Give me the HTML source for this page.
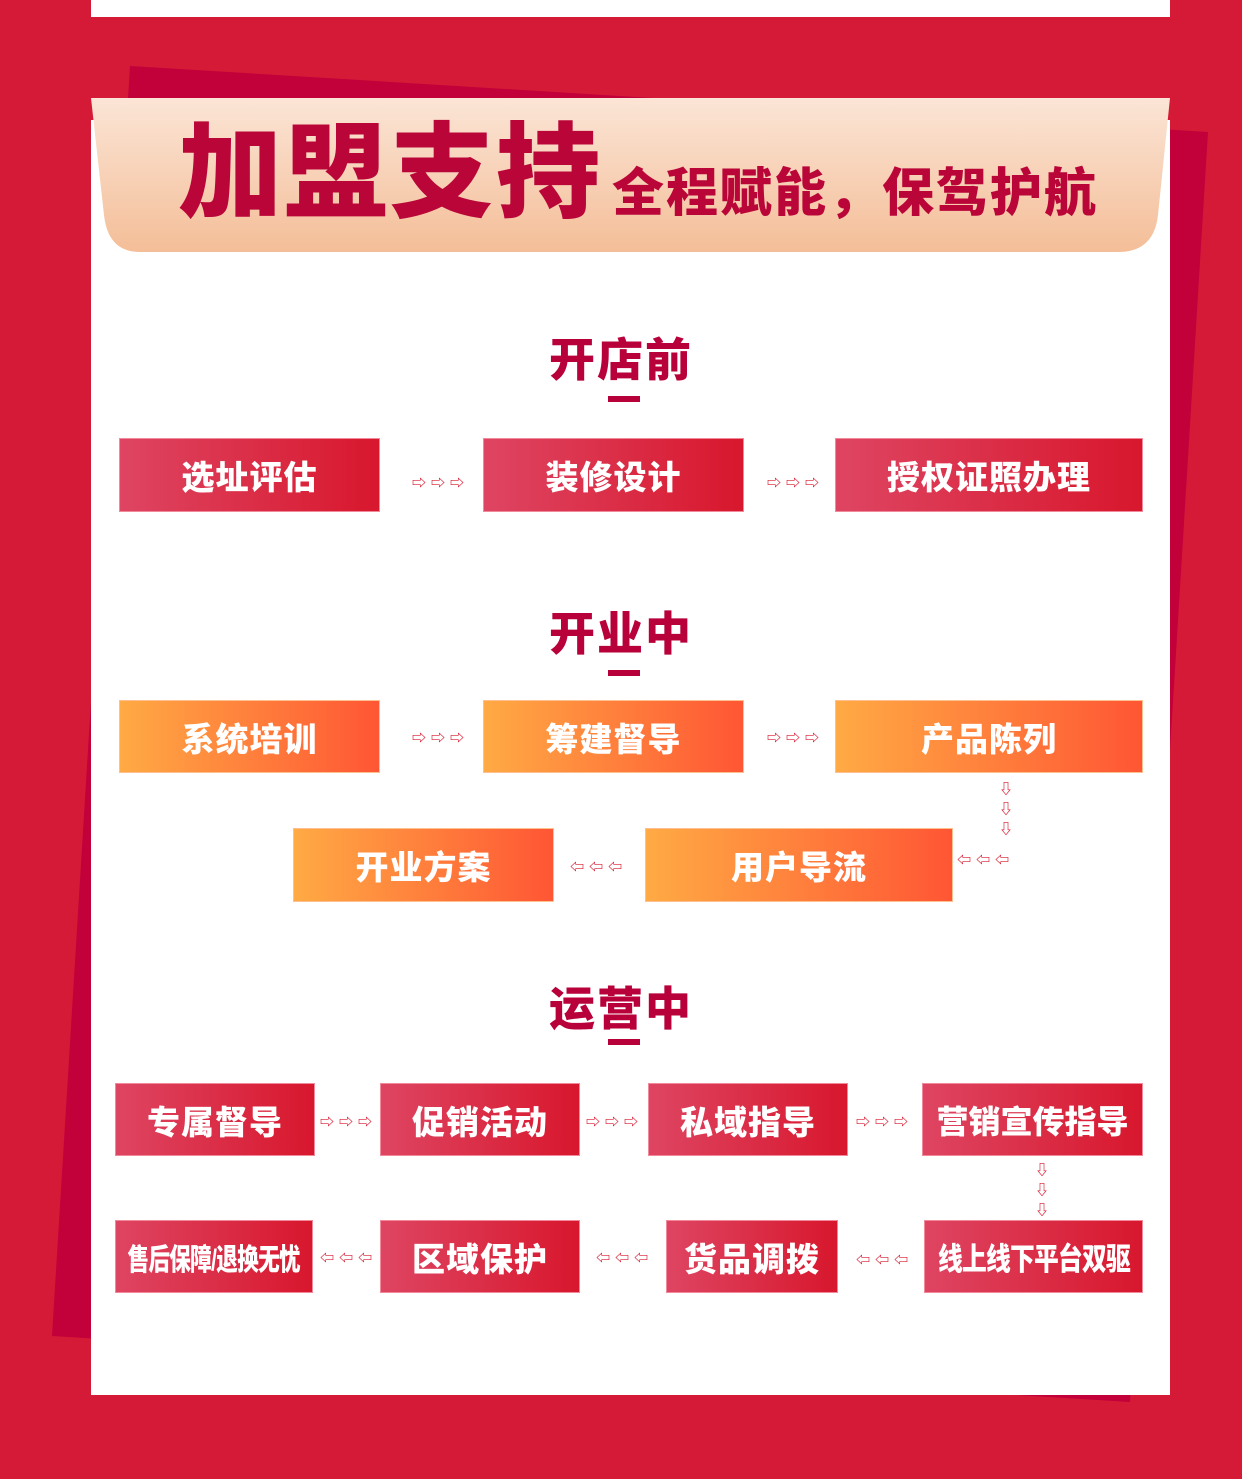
<!DOCTYPE html>
<html><head><meta charset="utf-8"><style>
*{margin:0;padding:0;box-sizing:border-box}
body{width:1242px;height:1479px;background:#D51A37;position:relative;overflow:hidden;font-family:"Liberation Sans","Noto Sans CJK SC",sans-serif}
.a{position:absolute}
.box{position:absolute;display:flex;align-items:center;justify-content:center;color:#fff;font-weight:900;font-size:33px;letter-spacing:1px;white-space:nowrap;background:linear-gradient(90deg,#DE4562,#D8172D);border:1px solid #f08a9a}
.box span{display:inline-block}
.o{background:linear-gradient(90deg,#FFAA44,#FF5634);border-color:#ffc090}
.t{position:absolute;left:0;width:1242px;text-align:center;font-size:46px;font-weight:900;color:#B8003A;letter-spacing:2px}
.bar{position:absolute;left:608px;width:32px;height:6px;background:#B8003A}
.ar{position:absolute;color:#D8182E;font-size:14px;letter-spacing:5px;line-height:1;font-weight:bold}
.dn{position:absolute;color:#D8182E;font-size:14px;line-height:20px;width:14px;text-align:center;font-weight:bold}
</style></head><body>
<div class="a" style="left:91px;top:0;width:1079px;height:17px;background:#fff"></div>
<svg class="a" style="left:0;top:0" width="1242" height="1479"><polygon points="130,66 1208,132 1130,1402 52,1336" fill="#C2003A"/></svg>
<div class="a" style="left:91px;top:120px;width:1079px;height:1275px;background:#fff"></div>
<svg class="a" style="left:0;top:0" width="1242" height="260">
<defs><linearGradient id="g" x1="0" y1="0" x2="0" y2="1"><stop offset="0" stop-color="#FBE5D6"/><stop offset="1" stop-color="#F4BE98"/></linearGradient></defs>
<path d="M91,98 L1170,98 L1158,215 Q1154,252 1118,252 L140,252 Q108,252 104,215 Z" fill="url(#g)"/></svg>
<div class="a" style="left:178px;top:114px;font-size:104px;font-weight:900;color:#BA0539;letter-spacing:2px;line-height:120px">加盟支持</div>
<div class="a" style="left:612px;top:162px;font-size:52px;font-weight:900;color:#BA0539;letter-spacing:2px;line-height:64px">全程赋能，保驾护航</div>

<div class="t" style="top:324px">开店前</div><div class="bar" style="top:396px"></div>
<div class="box" style="left:119px;top:438px;width:261px;height:74px">选址评估</div>
<div class="box" style="left:483px;top:438px;width:261px;height:74px">装修设计</div>
<div class="box" style="left:835px;top:438px;width:308px;height:74px">授权证照办理</div>
<div class="ar" style="left:412px;top:476px">⇨⇨⇨</div>
<div class="ar" style="left:767px;top:476px">⇨⇨⇨</div>

<div class="t" style="top:598px">开业中</div><div class="bar" style="top:670px"></div>
<div class="box o" style="left:119px;top:700px;width:261px;height:73px">系统培训</div>
<div class="box o" style="left:483px;top:700px;width:261px;height:73px">筹建督导</div>
<div class="box o" style="left:835px;top:700px;width:308px;height:73px">产品陈列</div>
<div class="ar" style="left:412px;top:731px">⇨⇨⇨</div>
<div class="ar" style="left:767px;top:731px">⇨⇨⇨</div>
<div class="dn" style="left:999px;top:779px">⇩<br>⇩<br>⇩</div>
<div class="box o" style="left:293px;top:828px;width:261px;height:74px">开业方案</div>
<div class="box o" style="left:645px;top:828px;width:308px;height:74px">用户导流</div>
<div class="ar" style="left:570px;top:860px">⇦⇦⇦</div>
<div class="ar" style="left:957px;top:853px">⇦⇦⇦</div>

<div class="t" style="top:973px">运营中</div><div class="bar" style="top:1039px"></div>
<div class="box" style="left:115px;top:1083px;width:200px;height:73px">专属督导</div>
<div class="box" style="left:380px;top:1083px;width:200px;height:73px">促销活动</div>
<div class="box" style="left:648px;top:1083px;width:200px;height:73px">私域指导</div>
<div class="box" style="left:922px;top:1083px;width:221px;height:73px;font-size:32px;letter-spacing:0">营销宣传指导</div>
<div class="ar" style="left:320px;top:1115px">⇨⇨⇨</div>
<div class="ar" style="left:586px;top:1115px">⇨⇨⇨</div>
<div class="ar" style="left:856px;top:1115px">⇨⇨⇨</div>
<div class="dn" style="left:1035px;top:1160px">⇩<br>⇩<br>⇩</div>
<div class="box" style="left:115px;top:1220px;width:198px;height:73px;font-size:30px;letter-spacing:-1px"><span style="transform:scaleX(0.72)">售后保障/退换无忧</span></div>
<div class="box" style="left:380px;top:1220px;width:200px;height:73px">区域保护</div>
<div class="box" style="left:666px;top:1220px;width:172px;height:73px">货品调拨</div>
<div class="box" style="left:924px;top:1220px;width:219px;height:73px;font-size:31px;letter-spacing:-1px"><span style="transform:scaleX(0.8)">线上线下平台双驱</span></div>
<div class="ar" style="left:320px;top:1251px">⇦⇦⇦</div>
<div class="ar" style="left:596px;top:1251px">⇦⇦⇦</div>
<div class="ar" style="left:856px;top:1253px">⇦⇦⇦</div>
</body></html>
